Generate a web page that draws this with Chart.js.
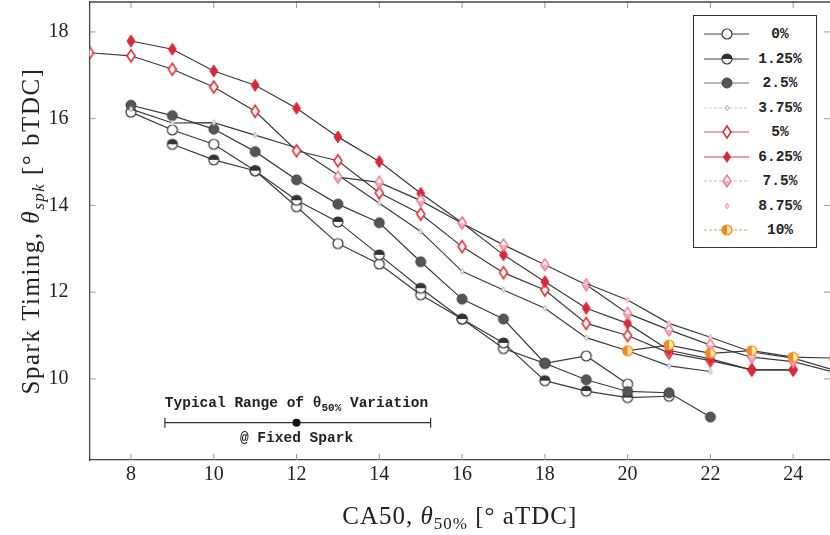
<!DOCTYPE html>
<html><head><meta charset="utf-8">
<script src="https://cdn.jsdelivr.net/npm/chart.js@4.4.0/dist/chart.umd.min.js"></script>
<style>
html,body{margin:0;padding:0;background:#fff;}
#wrap{position:relative;width:830px;height:535px;overflow:hidden;}
#legend{position:absolute;left:693px;top:15px;width:124px;height:233px;border:1.3px solid #333;background:#fff;box-sizing:border-box;font:bold 14.5px 'Liberation Mono',monospace;color:#222;}
.row{position:absolute;left:0;width:100%;height:20px;}
.row svg{position:absolute;left:8px;top:0;}
.row span{position:absolute;left:55px;width:62px;text-align:center;line-height:20px;}
</style></head>
<body>
<div id="wrap">
<canvas id="c" width="830" height="535"></canvas>
<div id="legend"></div>
</div>
<script>
// ---- data ----
const seriesLabels = ['0%','1.25%','2.5%','3.75%','5%','6.25%','7.5%','8.75%','10%'];
const xTicks = [8,10,12,14,16,18,20,22,24];
const yTicks = [10,12,14,16,18];

const ca50_0  = [8,9,10,11,12,13,14,15,16,17,18,19,20];
const spk_0   = [16.15,15.74,15.41,14.80,13.97,13.12,12.65,11.94,11.38,10.70,10.36,10.53,9.88];
const ca50_1  = [9,10,11,12,13,14,15,16,17,18,19,20,21];
const spk_1   = [15.41,15.05,14.80,14.12,13.62,12.86,12.09,11.38,10.83,9.96,9.72,9.57,9.60];
const ca50_2  = [8,9,10,11,12,13,14,15,16,17,18,19,20,21,22];
const spk_2   = [16.31,16.07,15.76,15.24,14.59,14.03,13.60,12.70,11.84,11.38,10.36,9.98,9.71,9.68,9.12];
const ca50_3  = [8,9,10,11,12,13,14,15,16,17,18,19,20,21,22];
const spk_3   = [16.22,15.90,15.91,15.62,15.33,14.70,14.05,13.40,12.48,12.05,11.63,10.95,10.65,10.30,10.17];
const ca50_4  = [7,8,9,10,11,12,13,14,15,16,17,18,19,20,21,22,23,24];
const spk_4   = [17.52,17.45,17.14,16.73,16.17,15.26,15.03,14.29,13.80,13.05,12.45,12.05,11.28,11.00,10.60,10.42,10.21,10.21];
const ca50_5  = [8,9,10,11,12,13,14,15,16,17,18,19,20,21,22,23,24];
const spk_5   = [17.79,17.60,17.10,16.77,16.24,15.58,15.01,14.28,13.60,12.86,12.24,11.63,11.28,10.66,10.46,10.21,10.21];
const ca50_6  = [13,14,15,16,17,18,19,20,21,22,23,24,25];
const spk_6   = [14.65,14.53,14.11,13.59,13.09,12.63,12.17,11.51,11.13,10.78,10.50,10.40,10.15];
const ca50_7  = [19,20,21,22,23,24,25];
const spk_7   = [12.20,11.82,11.28,10.96,10.62,10.48,10.20];
const ca50_8  = [20,21,22,23,24,25];
const spk_8   = [10.65,10.78,10.59,10.65,10.50,10.48];

const xRange = [7, 24.89];
const yRange = [8.13, 18.69];
// annotation: typical range of CA50 variation at fixed spark
const rangeLo = 8.82, rangeHi = 15.24, rangeMid = 12, rangeY = 8.99;

// ---- markers ----
function mk(w,h,draw){const c=document.createElement('canvas');c.width=w;c.height=h;const g=c.getContext('2d');draw(g,w/2,h/2);return c;}
function circ(g,cx,cy,r){g.beginPath();g.arc(cx,cy,r,0,Math.PI*2);}
function dia(g,cx,cy,hw,hh){g.beginPath();g.moveTo(cx,cy-hh);g.lineTo(cx+hw,cy);g.lineTo(cx,cy+hh);g.lineTo(cx-hw,cy);g.closePath();}
const markers = [
  mk(14,14,(g,x,y)=>{circ(g,x,y,5);g.fillStyle='#fff';g.fill();g.lineWidth=1.2;g.strokeStyle='#333';g.stroke();}),
  mk(14,14,(g,x,y)=>{circ(g,x,y,5);g.fillStyle='#fff';g.fill();g.beginPath();g.arc(x,y,5,Math.PI,2*Math.PI);g.closePath();g.fillStyle='#333';g.fill();circ(g,x,y,5);g.lineWidth=1.2;g.strokeStyle='#333';g.stroke();}),
  mk(14,14,(g,x,y)=>{circ(g,x,y,5);g.fillStyle='#555';g.fill();g.lineWidth=1;g.strokeStyle='#444';g.stroke();}),
  mk(8,8,(g,x,y)=>{dia(g,x,y,2,3);g.fillStyle='#dfe3ea';g.fill();g.lineWidth=0.8;g.strokeStyle='#a8b0bc';g.stroke();}),
  mk(12,16,(g,x,y)=>{dia(g,x,y,4,6);g.fillStyle='#fff';g.fill();g.lineWidth=1.6;g.strokeStyle='#e03030';g.stroke();}),
  mk(12,16,(g,x,y)=>{dia(g,x,y,4,6);g.fillStyle='#d8283a';g.fill();g.lineWidth=1;g.strokeStyle='#d8283a';g.stroke();}),
  mk(12,16,(g,x,y)=>{dia(g,x,y,4,6);g.fillStyle='#fff';g.fill();g.beginPath();g.moveTo(x-4,y);g.lineTo(x+4,y);g.lineTo(x,y+6);g.closePath();g.fillStyle='#f7b3c3';g.fill();dia(g,x,y,4,6);g.lineWidth=1.4;g.strokeStyle='#f07a94';g.stroke();}),
  mk(8,8,(g,x,y)=>{dia(g,x,y,2,3);g.fillStyle='#fbd0da';g.fill();g.lineWidth=0.8;g.strokeStyle='#f090a8';g.stroke();}),
  mk(14,14,(g,x,y)=>{circ(g,x,y,5);g.fillStyle='#ffe6a8';g.fill();g.beginPath();g.arc(x,y,5,Math.PI/2,Math.PI*1.5);g.closePath();g.fillStyle='#f08a20';g.fill();circ(g,x,y,5);g.lineWidth=1.2;g.strokeStyle='#f08a20';g.stroke();})
];

const xs = [ca50_0,ca50_1,ca50_2,ca50_3,ca50_4,ca50_5,ca50_6,ca50_7,ca50_8];
const ys = [spk_0,spk_1,spk_2,spk_3,spk_4,spk_5,spk_6,spk_7,spk_8];
const datasets = seriesLabels.map((lab,i)=>({
  label: lab,
  data: xs[i].map((x,j)=>({x:x,y:ys[i][j]})),
  order: seriesLabels.length - i,
  borderColor:'#3a3a3a', borderWidth:1.2, backgroundColor:'#3a3a3a',
  pointStyle: markers[i], pointRadius:5, pointHoverRadius:5,
  showLine:true, tension:0, fill:false
}));

function rich(ctx, parts, x, y, ls){
  ls = ls||0;
  ctx.letterSpacing = ls+'px';
  let w=0; parts.forEach(p=>{ctx.font=p.f; w+=ctx.measureText(p.t).width;});
  let cx = x - w/2;
  parts.forEach(p=>{ctx.font=p.f; ctx.fillText(p.t, cx, y+(p.dy||0)); cx+=ctx.measureText(p.t).width;});
  ctx.letterSpacing = '0px';
}

const decor = {
  id:'decor',
  afterDraw(chart){
    const {ctx, chartArea:a, scales:{x,y}} = chart;
    ctx.save();
    // inner tick marks on all sides
    ctx.strokeStyle='#999'; ctx.lineWidth=1;
    ctx.beginPath();
    xTicks.forEach(v=>{const p=x.getPixelForValue(v); ctx.moveTo(p,a.bottom); ctx.lineTo(p,a.bottom-6); ctx.moveTo(p,a.top); ctx.lineTo(p,a.top+6);});
    yTicks.forEach(v=>{const p=y.getPixelForValue(v); ctx.moveTo(a.left,p); ctx.lineTo(a.left+6,p); ctx.moveTo(a.right,p); ctx.lineTo(a.right-6,p);});
    ctx.stroke();
    // top border
    ctx.strokeStyle='#444'; ctx.lineWidth=1.3;
    ctx.beginPath(); ctx.moveTo(a.left,a.top); ctx.lineTo(a.right,a.top); ctx.stroke();
    // annotation
    const x1=x.getPixelForValue(rangeLo), x2=x.getPixelForValue(rangeHi), xm=x.getPixelForValue(rangeMid), yl=y.getPixelForValue(rangeY);
    ctx.strokeStyle='#333'; ctx.lineWidth=1.2;
    ctx.beginPath(); ctx.moveTo(x1,yl); ctx.lineTo(x2,yl); ctx.moveTo(x1,yl-5); ctx.lineTo(x1,yl+5); ctx.moveTo(x2,yl-5); ctx.lineTo(x2,yl+5); ctx.stroke();
    ctx.beginPath(); ctx.arc(xm,yl,4,0,Math.PI*2); ctx.fillStyle='#111'; ctx.fill();
    ctx.fillStyle='#222'; ctx.textBaseline='alphabetic';
    const fb="bold 14.5px 'Liberation Mono', monospace", fs="bold 11px 'Liberation Mono', monospace";
    rich(ctx,[{t:'Typical Range of ',f:fb},{t:'θ',f:fb},{t:'50%',f:fs,dy:4},{t:' Variation',f:fb}], xm, yl-16);
    rich(ctx,[{t:'@ Fixed Spark',f:fb}], xm, yl+19);
    // axis titles
    ctx.fillStyle='#222';
    const F="25px 'Liberation Serif', serif", FI="italic 25px 'Liberation Serif', serif", FS="italic 17px 'Liberation Serif', serif", FSn="17px 'Liberation Serif', serif";
    rich(ctx,[{t:'CA50, ',f:F},{t:'θ',f:FI},{t:'50%',f:FSn,dy:5},{t:' [° aTDC]',f:F}], (a.left+a.right)/2, 524, 1);
    ctx.save(); ctx.translate(39,(a.top+a.bottom)/2); ctx.rotate(-Math.PI/2);
    rich(ctx,[{t:'Spark Timing, ',f:F},{t:'θ',f:FI},{t:'spk',f:FS,dy:5},{t:' [° bTDC]',f:F}], 0, 0, 1.5);
    ctx.restore();
    ctx.restore();
  }
};

new Chart(document.getElementById('c'),{
  type:'line',
  data:{datasets},
  options:{
    responsive:false, animation:false, events:[],
    layout:{autoPadding:false, padding:{top:2,left:0,right:0,bottom:0}},
    plugins:{legend:{display:false},tooltip:{enabled:false}},
    scales:{
      x:{type:'linear',min:xRange[0],max:xRange[1],
         afterBuildTicks:s=>{s.ticks=xTicks.map(v=>({value:v}));},
         afterFit:s=>{s.height=75; s.paddingLeft=0; s.paddingRight=0;},
         ticks:{font:{family:"'Liberation Serif', serif",size:20},color:'#222',padding:3,maxRotation:0},
         grid:{drawOnChartArea:false,drawTicks:false},
         border:{display:true,color:'#444',width:1.3}},
      y:{type:'linear',min:yRange[0],max:yRange[1],
         afterBuildTicks:s=>{s.ticks=yTicks.map(v=>({value:v}));},
         afterFit:s=>{s.width=89.6; s.paddingTop=0; s.paddingBottom=0;},
         ticks:{font:{family:"'Liberation Serif', serif",size:20},color:'#222',padding:21},
         grid:{drawOnChartArea:false,drawTicks:false},
         border:{display:true,color:'#444',width:1.3}}
    }
  },
  plugins:[decor]
});

// ---- legend (HTML) ----
const legendLines = [
  {c:'#444',d:''},{c:'#444',d:''},{c:'#777',d:''},{c:'#c4c8d0',d:'3 2'},{c:'#d85060',d:''},
  {c:'#d83848',d:''},{c:'#f2aab8',d:'3 2'},{c:null,d:''},{c:'#f0a060',d:'3 2'}
];
const svgMarks = [
  '<circle cx="25" cy="10" r="5" fill="#fff" stroke="#333" stroke-width="1.2"/>',
  '<circle cx="25" cy="10" r="5" fill="#fff"/><path d="M20,10 A5,5 0 0 1 30,10 Z" fill="#333"/><circle cx="25" cy="10" r="5" fill="none" stroke="#333" stroke-width="1.2"/>',
  '<circle cx="25" cy="10" r="5" fill="#555" stroke="#444"/>',
  '<path d="M25,7 L27,10 L25,13 L23,10 Z" fill="#dfe3ea" stroke="#a8b0bc" stroke-width="0.8"/>',
  '<path d="M25,4 L29,10 L25,16 L21,10 Z" fill="#fff" stroke="#e03030" stroke-width="1.6"/>',
  '<path d="M25,4 L29,10 L25,16 L21,10 Z" fill="#d8283a"/>',
  '<path d="M21,10 L29,10 L25,16 Z" fill="#f7b3c3"/><path d="M25,4 L29,10 L25,16 L21,10 Z" fill="none" stroke="#f07a94" stroke-width="1.4"/>',
  '<path d="M25,7 L27,10 L25,13 L23,10 Z" fill="#fbd0da" stroke="#f090a8" stroke-width="0.8"/>',
  '<circle cx="25" cy="10" r="5" fill="#ffe6a8"/><path d="M25,5 A5,5 0 0 0 25,15 Z" fill="#f08a20"/><circle cx="25" cy="10" r="5" fill="none" stroke="#f08a20" stroke-width="1.2"/>'
];
const leg = document.getElementById('legend');
seriesLabels.forEach((lab,i)=>{
  const r=document.createElement('div'); r.className='row'; r.style.top=(8+i*24.5)+'px';
  const L=legendLines[i];
  const line = L.c ? `<line x1="2" y1="10" x2="47" y2="10" stroke="${L.c}" stroke-width="1.2" ${L.d?`stroke-dasharray="${L.d}"`:''}/>` : '';
  r.innerHTML = `<svg width="50" height="20">${line}${svgMarks[i]}</svg><span>${lab}</span>`;
  leg.appendChild(r);
});
</script>
</body></html>
